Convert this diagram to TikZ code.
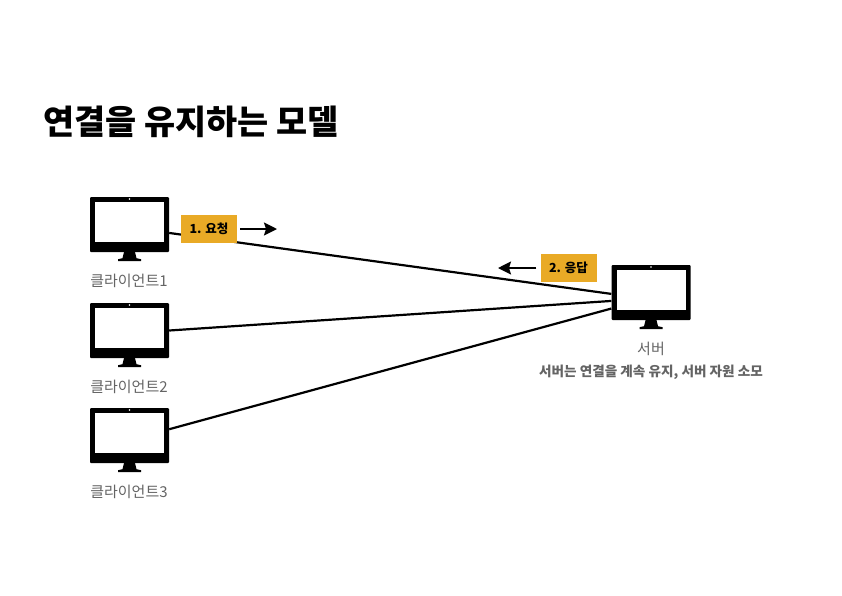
\documentclass[tikz,border=0pt]{standalone}
\usepackage{fontspec}
\setmainfont{Noto Sans CJK KR}
\usetikzlibrary{arrows.meta,calc}
\definecolor{tagorange}{RGB}{233,170,38}
\definecolor{labelgray}{RGB}{100,100,100}
\tikzset{
  body/.style={fill=black,draw=none,rounded corners=1pt,minimum width=79pt,minimum height=55pt,inner sep=0pt},
  tag/.style={fill=tagorange,minimum width=56pt,minimum height=28pt,inner sep=0pt,font=\fontsize{12.5}{14}\selectfont\bfseries},
  caption/.style={text=labelgray,font=\fontsize{15}{17}\selectfont},
  wire/.style={line width=2.2pt,black},
  flow/.style={line width=2pt,black,-{Stealth[length=13pt,width=13pt,inset=2pt]}}
}
\newcommand{\monitor}[3]{% name x y
  \node[body] (#1) at (#2,#3) {};
  \fill[white] ($(#1.center)+(-34.5,-22.5)$) rectangle ($(#1.center)+(34.5,17.5)$);
  \fill[white] ($(#1.north)+(0,2.2)$) circle (0.8pt);
  \fill[black] ($(#1.south)+(-5.5,0)$) -- ($(#1.south)+(5.5,0)$) -- ($(#1.south)+(7,6)$)
    -- ($(#1.south)+(11.5,7)$) -- ($(#1.south)+(11.5,9)$) -- ($(#1.south)+(-11.5,9)$)
    -- ($(#1.south)+(-11.5,7)$) -- ($(#1.south)+(-7,6)$) -- cycle;
}
\begin{document}
\begin{tikzpicture}[x=1pt,y=-1pt]
  \useasboundingbox (0,0) rectangle (842,595);
  \node[anchor=west,font=\fontsize{33.8}{38}\selectfont\bfseries] (title) at (40,122) {연결을 유지하는 모델};

  \foreach \name/\y/\n in {client1/224.5/1,client2/330.5/2,client3/435.5/3}{
    \monitor{\name}{129.5}{\y}
    \node[caption] (\name label) at (129,\y+56.5) {클라이언트\n};
  }
  \monitor{server}{651}{292.5}
  \node[caption] (serverlabel) at (651,349) {서버};
  \node[text=labelgray,font=\fontsize{13.6}{16}\selectfont\bfseries] (servernote) at (651,372) {서버는 연결을 계속 유지, 서버 자원 소모};

  \draw[wire] (client1.-12) -- (server.182);
  \draw[wire] (client2.east) -- (server.192);
  \draw[wire] (client3.9) -- (server.202);

  \node[tag] (request) at (209,229) {1. 요청};
  \node[tag] (response) at (568.5,268) {2. 응답};
  \coordinate (requestend) at (277,229);
  \coordinate (responseend) at (498,268);
  \draw[flow] ([xshift=3pt]request.east) -- (requestend);
  \draw[flow] ([xshift=-4pt]response.west) -- (responseend);
\end{tikzpicture}
\end{document}
